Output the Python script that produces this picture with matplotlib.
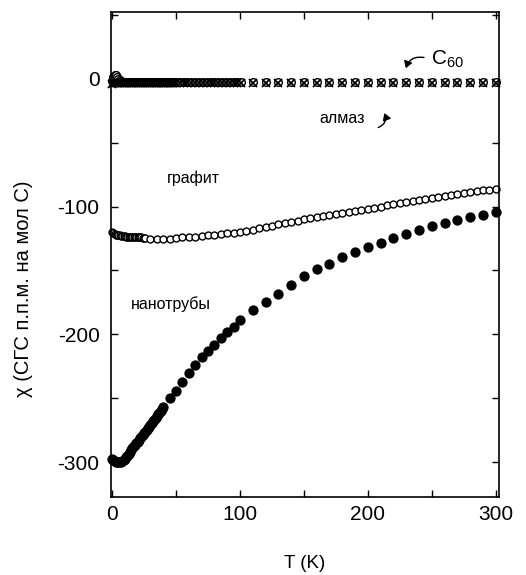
import numpy as np
import matplotlib.pyplot as plt
from matplotlib.patches import FancyArrowPatch
from matplotlib.ticker import MultipleLocator

plt.rcParams['font.family'] = ['Liberation Sans', 'DejaVu Sans']
plt.rcParams['mathtext.fontset'] = 'custom'
plt.rcParams['mathtext.rm'] = 'Liberation Sans'
plt.rcParams['axes.unicode_minus'] = False

# nanotubes (filled circles)
nt_T = [0, 1, 2, 3, 4, 5, 6, 7, 8, 9, 10, 11, 12, 13, 14, 15, 16, 17, 18, 19, 20,
        21, 22, 23, 24, 25, 26, 27, 28, 29, 30, 31, 32, 33, 34, 35, 36, 37, 38, 39, 40,
        45, 50, 55, 60, 65, 70, 75, 80, 85, 90, 95, 100,
        110, 120, 130, 140, 150, 160, 170, 180, 190, 200, 210, 220, 230, 240, 250,
        260, 270, 280, 290, 300]
nt_chi = [-297, -298, -299, -299.5, -300, -300, -300, -299.5, -299, -298, -297, -296, -295,
          -293.5, -292, -290.5, -289, -287.5, -286.5, -285, -284, -282.5, -281, -280, -278.5,
          -277, -276, -274.5, -273, -272, -270.5, -269, -268, -266.5, -265, -264, -262.5,
          -261, -260, -258.5, -257,
          -250, -244, -237, -230, -224, -218, -213, -208, -202.5, -198, -194, -189,
          -181, -175, -168, -161, -154.5, -148.7, -144.8, -139.6, -135.7, -131.8, -128.4,
          -124.8, -121.3, -118.2, -115.6, -112.7, -110.4, -108.4, -106.3, -104.5]

# graphite (open circles)
gr_T = [0, 1, 2, 3, 4, 5, 6, 7, 8, 9, 10, 11, 12, 13, 14, 15, 16, 17, 18, 19, 20,
        21, 22, 23, 24, 25, 26,
        30, 35, 40, 45, 50, 55, 60, 65, 70, 75, 80, 85, 90, 95, 100, 105, 110, 115,
        120, 125, 130, 135, 140, 145, 150, 155, 160, 165, 170, 175, 180, 185, 190, 195,
        200, 205, 210, 215, 220, 225, 230, 235, 240, 245, 250, 255, 260, 265, 270, 275,
        280, 285, 290, 295, 300]
gr_chi = [-120, -121, -121.5, -122, -122, -122.5, -122.5, -123, -123, -123, -123, -123.5,
          -123.5, -123.5, -123.5, -123.5, -123.5, -124, -124, -124, -124, -124, -124, -124,
          -124.5, -124.5, -124.5,
          -125, -125, -125, -125, -124.5, -124, -124, -123.5, -123, -122.5, -122, -121.5, -121,
          -120.5, -120, -119, -118, -117, -116, -115, -114, -113, -112, -111, -110, -109, -108,
          -107.2, -106.4, -105.6, -104.8, -104, -103.2, -102.4, -101.6, -100.8, -100, -99.2,
          -98.4, -97.6, -96.8, -96, -95.2, -94.4, -93.6, -92.8, -92, -91.2, -90.4, -89.6,
          -88.8, -88, -87.4, -86.8, -86.2]

# C60 and diamond (near zero)
c60_T = [0, 1, 2, 3, 4, 5, 6, 7, 8, 9, 10, 11, 12, 13, 14, 15, 16, 17, 18, 19, 20,
         21, 22, 23, 24, 25, 26, 27, 28, 29, 30, 31, 32, 33, 34, 35, 36, 37, 38, 39, 40,
         41, 42, 43, 44, 45, 46, 47, 48, 49, 50,
         53, 56, 59, 62, 65, 68, 71, 74, 77, 80, 83, 86, 89, 92, 95, 98, 101,
         110, 120, 130, 140, 150, 160, 170, 180, 190, 200, 210, 220, 230, 240, 250,
         260, 270, 280, 290, 300]
c60_chi = [-2, 1, 3, 2.5, 1, -0.5, -1.5, -2, -2.5, -2.5, -3, -3, -3, -3, -3, -3, -3, -3, -3, -3, -3,
           -3, -3, -3, -3, -3, -3, -3, -3, -3, -3, -3, -3, -3, -3, -3, -3, -3, -3, -3, -3,
           -3, -3, -3, -3, -3, -3, -3, -3, -3, -3,
           -3, -3, -3, -3, -3, -3, -3, -3, -3, -3, -3, -3, -3, -3, -3, -3, -3,
           -3, -3, -3, -3, -3, -3, -3, -3, -3, -3, -3, -3, -3, -3, -3,
           -3, -3, -3, -3, -3]
dia_T = c60_T
dia_chi = [-4, -3.5, -3.5, -3.5, -3.5, -3.5, -3.5, -3.5, -3.5, -3.5, -3.5, -3.5, -3.5, -3.5, -3.5,
           -3.5, -3.5, -3.5, -3.5, -3.5, -3.5, -3.5, -3.5, -3.5, -3.5, -3.5, -3.5, -3.5, -3.5,
           -3.5, -3.5, -3.5, -3.5, -3.5, -3.5, -3.5, -3.5, -3.5, -3.5, -3.5, -3.5, -3.5, -3.5,
           -3.5, -3.5, -3.5, -3.5, -3.5, -3.5, -3.5, -3.5,
           -3.5, -3.5, -3.5, -3.5, -3.5, -3.5, -3.5, -3.5, -3.5, -3.5, -3.5, -3.5, -3.5, -3.5,
           -3.5, -3.5, -3.5,
           -3.5, -3.5, -3.5, -3.5, -3.5, -3.5, -3.5, -3.5, -3.5, -3.5, -3.5, -3.5, -3.5, -3.5,
           -3.5, -3.5, -3.5, -3.5, -3.5, -3.5]

fig = plt.figure(figsize=(5.26, 5.75), dpi=100)
ax = fig.add_axes([0.2105, 0.1357, 0.7382, 0.8434])

ax.plot(nt_T, nt_chi, 'o', ms=6.4, color='black', mec='black', clip_on=False)
ax.plot(gr_T, gr_chi, 'o', ms=5, mfc='white', mec='black', mew=1.0, clip_on=False)
ax.plot(c60_T, c60_chi, 'o', ms=5.5, mfc='white', mec='black', mew=1.0, clip_on=False)
ax.plot(dia_T, dia_chi, 'x', ms=5.5, color='black', mew=1.3, clip_on=False)

ax.set_xlim(-1, 302.5)
ax.set_ylim(-327, 52)
ax.xaxis.set_major_locator(MultipleLocator(100))
ax.xaxis.set_minor_locator(MultipleLocator(50))
ax.yaxis.set_major_locator(MultipleLocator(100))
ax.yaxis.set_minor_locator(MultipleLocator(50))
ax.tick_params(which='both', direction='in', top=True, right=True, length=5, width=1.0,
               labelsize=15, color='black')
ax.tick_params(axis='x', pad=6)
ax.tick_params(axis='y', pad=8)
for s in ax.spines.values():
    s.set_linewidth(1.2)

ax.set_xlabel('T (K)', fontsize=13.5, labelpad=22)
ax.set_ylabel('χ (СГС п.п.м. на мол С)', fontsize=14.5)
ax.yaxis.set_label_coords(-0.2, 0.43)

# annotations
ax.text(249, 15, r'C$_{\mathrm{60}}$', fontsize=15, ha='left', va='center')
ax.add_patch(FancyArrowPatch((246, 16), (229, 6), connectionstyle='arc3,rad=0.5',
                             arrowstyle='-|>,head_length=4,head_width=2.5', color='black', lw=1.0))
ax.text(198, -31, 'алмаз', fontsize=11.5, ha='right', va='center')
ax.add_patch(FancyArrowPatch((206, -39), (212, -25), connectionstyle='arc3,rad=0.6',
                             arrowstyle='-|>,head_length=4,head_width=2.5', color='black', lw=1.0))
ax.text(43, -78, 'графит', fontsize=11.5, ha='left', va='center')
ax.text(15, -176, 'нанотрубы', fontsize=11.5, ha='left', va='center')

fig.savefig('out.png', dpi=100)
